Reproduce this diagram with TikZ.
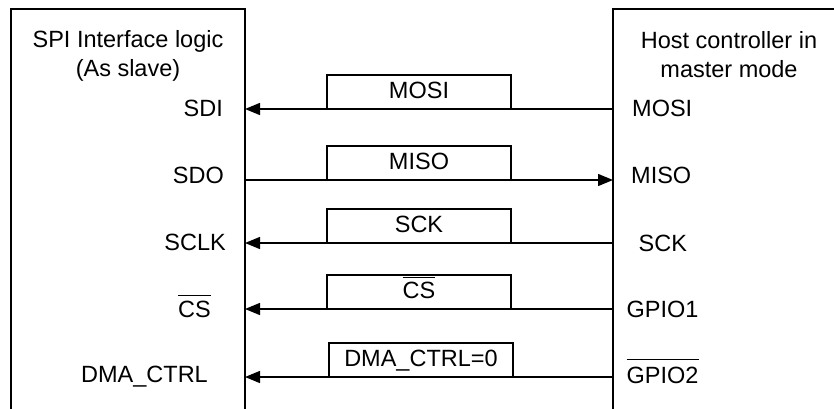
\documentclass[tikz,border=0pt]{standalone}
\usepackage{fontspec}
\setmainfont{Liberation Sans}
\usetikzlibrary{arrows.meta}
\newcommand\ovtext[2][5pt]{\vbox{\hrule height 1pt\kern #1\hbox{#2}}}
\tikzset{
  lbl/.style={inner sep=0pt, font=\fontsize{23.5}{28}\selectfont},
  frame/.style={line width=1.5pt},
  sig/.style={line width=1.4pt, -{Triangle[length=15pt,width=12pt]}},
  tag/.style={draw, line width=1.4pt, minimum width=184pt, minimum height=33.5pt,
    inner sep=0pt, text height=17pt, text depth=4pt, anchor=south,
    font=\fontsize{23.5}{28}\selectfont},
}
\begin{document}
\begin{tikzpicture}[x=1pt,y=-1pt]
\useasboundingbox (0,0) rectangle (834,408);
\clip (0,0) rectangle (834,408);
% frames
\draw[frame] (11,420) -- (11,9) -- (245,9) -- (245,420);
\draw[frame] (613,420) -- (613,9) -- (850,9);
% titles
\node[lbl, anchor=base] (t1) at (128,47) {SPI Interface logic};
\node[lbl, anchor=base] (t2) at (128,76) {(As slave)};
\node[lbl, anchor=base] (t3) at (729,48) {Host controller in};
\node[lbl, anchor=base] (t4) at (729,77) {master mode};
% left labels
\node[lbl, anchor=base east] (sdi) at (223,116.5) {SDI};
\node[lbl, anchor=base east] (sdo) at (224,183) {SDO};
\node[lbl, anchor=base east] (sclk) at (226,250) {SCLK};
\node[lbl, anchor=base east] (cs) at (211,317) {\ovtext{CS}};
\node[lbl, anchor=base east] (dma) at (208,382) {DMA\_CTRL};
% right labels
\node[lbl, anchor=base west] (mosi) at (632,116) {MOSI};
\node[lbl, anchor=base west] (miso) at (631,183) {MISO};
\node[lbl, anchor=base west] (sck) at (638.5,251) {SCK};
\node[lbl, anchor=base west] (gpio1) at (626.5,317) {GPIO1};
\node[lbl, anchor=base west] (gpio2) at (626.5,383) {\ovtext[7pt]{GPIO2}};
% connector ends
\coordinate (L1) at (245,109); \coordinate (R1) at (613,109);
\coordinate (L2) at (245,180); \coordinate (R2) at (613,180);
\coordinate (L3) at (245,243); \coordinate (R3) at (613,243);
\coordinate (L4) at (245,309); \coordinate (R4) at (613,309);
\coordinate (L5) at (245,377); \coordinate (R5) at (613,377);
% connectors
\draw[sig] (R1) -- (L1);
\draw[sig] (L2) -- (R2);
\draw[sig] (R3) -- (L3);
\draw[sig] (R4) -- (L4);
\draw[sig] (R5) -- (L5);
% tags
\node[tag] (tmosi) at (419,109) {MOSI};
\node[tag] (tmiso) at (419,180) {MISO};
\node[tag] (tsck) at (419,243) {SCK};
\node[tag] (tcs) at (419,309) {\ovtext[4pt]{CS}};
\node[tag] (tdma) at (421,377) {DMA\_CTRL=0};
\end{tikzpicture}
\end{document}
